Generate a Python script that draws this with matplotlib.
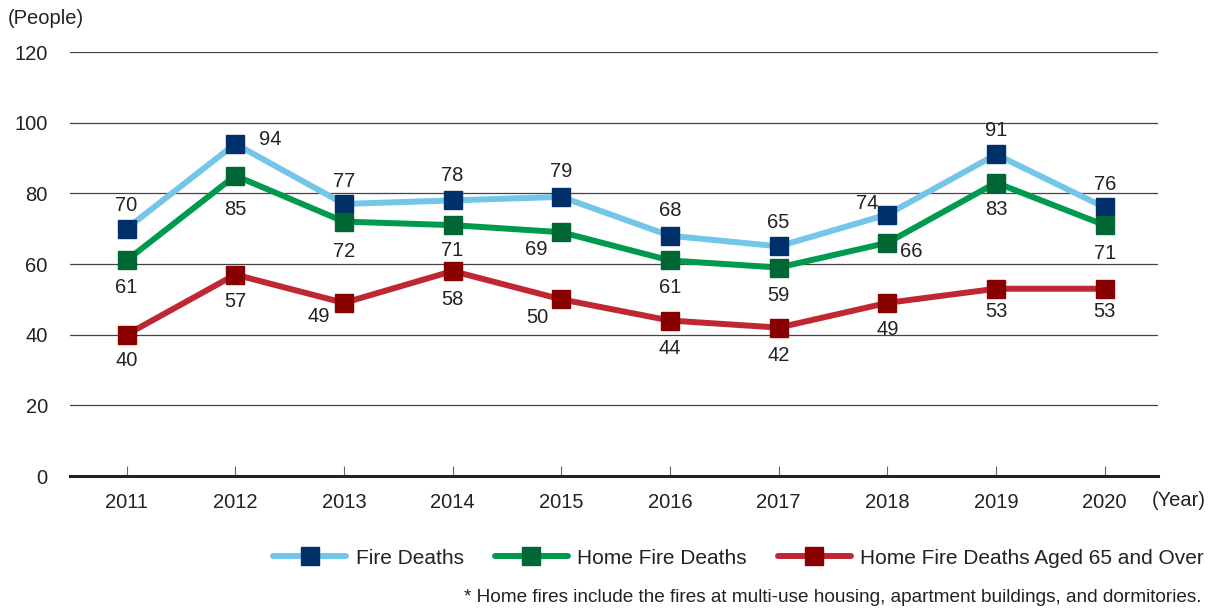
import matplotlib
matplotlib.use("Agg")
import matplotlib.pyplot as plt
from matplotlib.lines import Line2D

plt.rcParams["font.family"] = ["Liberation Sans", "DejaVu Sans"]

years = ["2011", "2012", "2013", "2014", "2015", "2016", "2017", "2018", "2019", "2020"]
fire_deaths = [70, 94, 77, 78, 79, 68, 65, 74, 91, 76]
home_deaths = [61, 85, 72, 71, 69, 61, 59, 66, 83, 71]
home_65 = [40, 57, 49, 58, 50, 44, 42, 49, 53, 53]

# label offsets in pixels (dx, dy) relative to the marker, dy positive = down
fire_off = [(0, -23), (35, -4), (0, -22), (0, -25), (0, -25), (0, -25), (0, -24), (-20, -11), (0, -24), (0, -23)]
home_off = [(0, 27), (0, 34), (0, 30), (0, 25), (-25, 17), (0, 27), (0, 28), (24, 9), (0, 27), (0, 28)]
old_off = [(0, 26), (0, 27), (-25, 14), (0, 28), (-24, 18), (0, 28), (0, 28), (0, 27), (0, 23), (0, 23)]

series = [
    ("Fire Deaths", fire_deaths, "#73C6E7", "#00306A", fire_off),
    ("Home Fire Deaths", home_deaths, "#009A4E", "#006633", home_off),
    ("Home Fire Deaths Aged 65 and Over", home_65, "#BF2833", "#880000", old_off),
]

FS = 14.5

fig = plt.figure(figsize=(12.19, 6.13), dpi=100)
ax = fig.add_axes([70 / 1219, 1 - 476 / 613, (1158 - 70) / 1219, (476 - 52) / 613])

x = list(range(len(years)))
handles = []
for name, vals, lc, mc, offs in series:
    ax.plot(x, vals, color=lc, lw=4.3, marker="s", ms=13, mfc=mc, mec=mc,
            solid_capstyle="butt", zorder=3)
    for xi, v, (dx, dy) in zip(x, vals, offs):
        ax.annotate(str(v), xy=(xi, v), xytext=(dx, -dy), textcoords="offset pixels",
                    ha="center", va="center", fontsize=FS, color="#222222", zorder=4)
    handles.append(Line2D([], [], color=lc, lw=4.3, marker="s", ms=13, mfc=mc, mec=mc,
                          solid_capstyle="round"))

ax.set_xlim(-0.52, 9.49)
ax.set_ylim(0, 120)
ax.set_yticks(range(0, 121, 20))
ax.yaxis.grid(True, color="#444444", lw=0.9)
ax.set_axisbelow(True)
for s in ["top", "right", "left"]:
    ax.spines[s].set_visible(False)
ax.spines["bottom"].set_color("#222222")
ax.spines["bottom"].set_linewidth(2.2)
ax.set_xticks(x)
ax.set_xticklabels(years)
ax.tick_params(axis="x", direction="in", length=7, width=0.8, color="#666666",
               pad=12, labelsize=FS, labelcolor="#222222")
ax.tick_params(axis="y", length=0, pad=16, labelsize=FS, labelcolor="#222222")

fig.text(8 / 1219, 1 - 18 / 613, "(People)", fontsize=FS, color="#222222", va="center", ha="left")
fig.text(1152 / 1219, 1 - 500 / 613, "(Year)", fontsize=FS, color="#222222", va="center", ha="left")

fig.legend(handles, [s[0] for s in series], loc="center right", ncol=3,
           bbox_to_anchor=(1204 / 1219, 1 - 558 / 613), frameon=False, fontsize=15,
           handlelength=3.5, handletextpad=0.45, columnspacing=1.5, labelcolor="#222222",
           borderpad=0, borderaxespad=0)

fig.text(1201 / 1219, 1 - 598 / 613,
         "* Home fires include the fires at multi-use housing, apartment buildings, and dormitories.",
         fontsize=13.7, color="#222222", ha="right", va="center")

fig.savefig("out.png", dpi=100)
